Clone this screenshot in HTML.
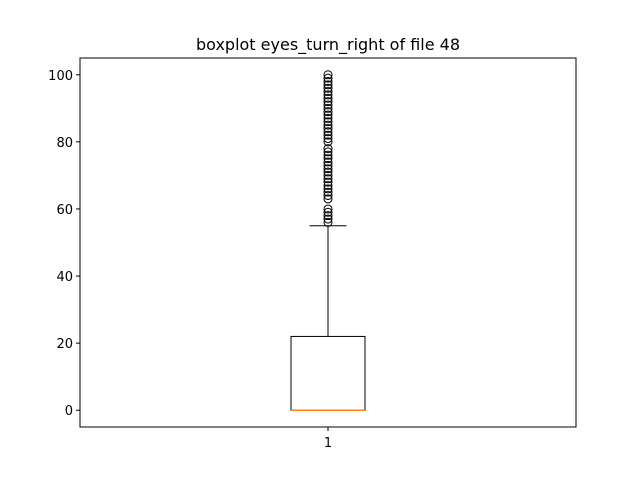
<!DOCTYPE html>
<html><head><meta charset="utf-8"><style>
body{margin:0;background:#fff}
svg text{font-family:"DejaVu Sans","Liberation Sans",sans-serif}
</style></head><body>
<svg id="chart" width="640" height="480" xmlns="http://www.w3.org/2000/svg">
<rect width="640" height="480" fill="#fff"/>
<text x="328" y="50" text-anchor="middle" font-size="16">boxplot eyes_turn_right of file 48</text>
<g id="plot"></g>
<rect x="80" y="58" width="496" height="369" fill="none" stroke="#000" stroke-width="1"/>
</svg>
<script>
const categories = ["1"];
const q1 = [0];
const median = [0];
const q3 = [22];
const whiskerLow = [0];
const whiskerHigh = [55];
const outliers = [56,57,58,59,60,63,64,65,66,67,68,69,70,71,72,73,74,75,76,77,78,80,81,82,83,84,85,86,87,88,89,90,91,92,93,94,95,96,97,98,99,100];
const yTicks = [0,20,40,60,80,100];

const NS="http://www.w3.org/2000/svg";
const g=document.getElementById('plot');
const yMin=-5,yMax=105,plotTop=58,plotBot=427;
const y=v=>plotBot-(v-yMin)/(yMax-yMin)*(plotBot-plotTop);
const x=i=>328+i*100;
function mk(t,a){const e=document.createElementNS(NS,t);for(const k in a)e.setAttribute(k,a[k]);g.appendChild(e);return e;}
yTicks.forEach(t=>{
  const l=mk('line',{x1:76,x2:80,y1:y(t),y2:y(t),stroke:'#000'});
  
  
  const tx=mk('text',{x:73,y:y(t)+5,'text-anchor':'end','font-size':13});
  tx.textContent=t;
  
  
});
categories.forEach((c,i)=>{
  const cx=x(i),hw=37;
  const tk=mk('line',{x1:cx,x2:cx,y1:427,y2:431,stroke:'#000'});
  
  
  const tl=mk('text',{x:cx,y:447,'text-anchor':'middle','font-size':13});
  tl.textContent=c;
  
  
  const b=mk('rect',{x:cx-hw,y:y(q3[i]),width:2*hw,height:y(q1[i])-y(q3[i]),fill:'none',stroke:'#000'});
  
  
  const w1=mk('line',{x1:cx,x2:cx,y1:y(q3[i]),y2:y(whiskerHigh[i]),stroke:'#000'});
  
  
  const c1=mk('line',{x1:cx-18.5,x2:cx+18.5,y1:y(whiskerHigh[i]),y2:y(whiskerHigh[i]),stroke:'#000'});
  
  
  const w2=mk('line',{x1:cx,x2:cx,y1:y(q1[i]),y2:y(whiskerLow[i]),stroke:'#000'});
  
  
  const c2=mk('line',{x1:cx-18.5,x2:cx+18.5,y1:y(whiskerLow[i]),y2:y(whiskerLow[i]),stroke:'#000'});
  
  
  const m=mk('line',{x1:cx-hw,x2:cx+hw,y1:y(median[i]),y2:y(median[i]),stroke:'#ff7f0e','stroke-width':1.5});
  
  
  outliers.forEach(v=>{
    const o=mk('circle',{cx:cx,cy:y(v),r:4,fill:'none',stroke:'#000'});
    
    
  });
});
</script>
</body></html>
